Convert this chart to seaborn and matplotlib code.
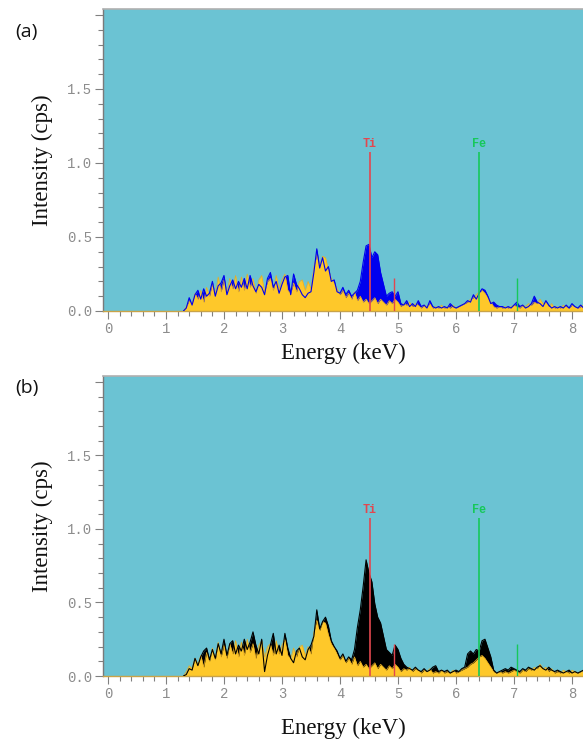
import numpy as np
import pandas as pd
import matplotlib
matplotlib.use("Agg")
import matplotlib.pyplot as plt
from matplotlib.ticker import MultipleLocator, FixedLocator, FixedFormatter
import seaborn as sns

# ---------------- data ----------------
energy = np.round(np.arange(1.30, 8.2001, 0.05), 2)   # keV sampling grid

# reference spectrum (yellow, same in both panels)
yellow_ref = [
    0.00, 0.03, 0.07, 0.05, 0.12, 0.08, 0.14, 0.06, 0.16, 0.10,
    0.19, 0.11, 0.23, 0.13, 0.21, 0.12, 0.22, 0.15, 0.24, 0.13,
    0.23, 0.14, 0.25, 0.16, 0.22, 0.12, 0.21, 0.24, 0.13, 0.20,
    0.22, 0.14, 0.24, 0.15, 0.21, 0.25, 0.14, 0.12, 0.19, 0.13,
    0.20, 0.21, 0.14, 0.20, 0.15, 0.30, 0.38, 0.31, 0.37, 0.36,
    0.28, 0.22, 0.19, 0.15, 0.11, 0.14, 0.09, 0.12, 0.08, 0.13,
    0.07, 0.10, 0.06, 0.08, 0.05, 0.07, 0.09, 0.05, 0.08, 0.06,
    0.04, 0.07, 0.05, 0.08, 0.06, 0.03, 0.05, 0.04, 0.06, 0.03,
    0.05, 0.04, 0.02, 0.04, 0.03, 0.05, 0.02, 0.03, 0.02, 0.04,
    0.02, 0.03, 0.02, 0.04, 0.02, 0.03, 0.04, 0.05, 0.06, 0.08,
    0.09, 0.11, 0.13, 0.14, 0.12, 0.09, 0.06, 0.03, 0.02, 0.03,
    0.02, 0.03, 0.02, 0.03, 0.04, 0.03, 0.02, 0.04, 0.03, 0.05,
    0.04, 0.06, 0.05, 0.08, 0.05, 0.06, 0.03, 0.05, 0.02, 0.03,
    0.02, 0.04, 0.03, 0.02, 0.04, 0.03, 0.02, 0.03, 0.04,
]

# sample spectrum, panel (a) (blue)
sample_a = [
    0.00, 0.02, 0.09, 0.04, 0.11, 0.14, 0.08, 0.15, 0.10, 0.12,
    0.20, 0.10, 0.17, 0.19, 0.24, 0.11, 0.17, 0.21, 0.15, 0.20,
    0.16, 0.22, 0.15, 0.24, 0.17, 0.13, 0.18, 0.16, 0.11, 0.22,
    0.26, 0.16, 0.20, 0.12, 0.18, 0.23, 0.24, 0.11, 0.25, 0.18,
    0.15, 0.11, 0.09, 0.12, 0.13, 0.26, 0.42, 0.29, 0.36, 0.27,
    0.30, 0.20, 0.21, 0.13, 0.12, 0.16, 0.11, 0.14, 0.10, 0.12,
    0.14, 0.20, 0.33, 0.44, 0.45, 0.36, 0.40, 0.38, 0.26, 0.18,
    0.10, 0.12, 0.13, 0.10, 0.13, 0.05, 0.04, 0.07, 0.03, 0.05,
    0.03, 0.07, 0.03, 0.04, 0.02, 0.07, 0.03, 0.02, 0.03, 0.02,
    0.03, 0.02, 0.05, 0.03, 0.02, 0.03, 0.04, 0.05, 0.07, 0.06,
    0.11, 0.08, 0.12, 0.15, 0.14, 0.10, 0.05, 0.06, 0.04, 0.03,
    0.03, 0.02, 0.03, 0.02, 0.04, 0.06, 0.03, 0.04, 0.02, 0.03,
    0.05, 0.10, 0.06, 0.05, 0.03, 0.07, 0.04, 0.02, 0.03, 0.02,
    0.03, 0.02, 0.04, 0.02, 0.05, 0.03, 0.02, 0.04, 0.02,
]

# sample spectrum, panel (b) (black)
sample_b = [
    0.00, 0.01, 0.05, 0.04, 0.12, 0.07, 0.13, 0.17, 0.19, 0.11,
    0.18, 0.12, 0.22, 0.15, 0.25, 0.14, 0.22, 0.24, 0.15, 0.21,
    0.17, 0.25, 0.18, 0.23, 0.30, 0.21, 0.15, 0.25, 0.03, 0.14,
    0.21, 0.29, 0.15, 0.21, 0.14, 0.29, 0.19, 0.12, 0.09, 0.17,
    0.19, 0.13, 0.11, 0.18, 0.21, 0.27, 0.45, 0.32, 0.37, 0.40,
    0.34, 0.24, 0.20, 0.17, 0.12, 0.15, 0.10, 0.13, 0.11, 0.18,
    0.33, 0.45, 0.61, 0.79, 0.70, 0.64, 0.49, 0.40, 0.36, 0.27,
    0.18, 0.16, 0.14, 0.21, 0.18, 0.12, 0.08, 0.06, 0.05, 0.04,
    0.06, 0.04, 0.03, 0.05, 0.03, 0.04, 0.06, 0.07, 0.03, 0.04,
    0.03, 0.04, 0.02, 0.03, 0.04, 0.03, 0.05, 0.06, 0.15, 0.17,
    0.15, 0.18, 0.17, 0.24, 0.25, 0.19, 0.13, 0.04, 0.02, 0.03,
    0.04, 0.05, 0.04, 0.06, 0.05, 0.04, 0.03, 0.05, 0.04, 0.06,
    0.05, 0.04, 0.06, 0.07, 0.05, 0.04, 0.06, 0.04, 0.03, 0.04,
    0.03, 0.02, 0.03, 0.04, 0.02, 0.03, 0.02, 0.03, 0.04,
]

# element marker lines
marker_elements = ["Ti", "Fe"]
marker_ka = [4.51, 6.40]
marker_kb = [4.93, 7.06]
marker_ka_height = 1.075
marker_kb_height = 0.22

x_ticks = [0, 1, 2, 3, 4, 5, 6, 7, 8]
y_ticks = [0.0, 0.5, 1.0, 1.5, 2.0]
y_ticklabels = ["0.0", "0.5", "1.0", "1.5", ""]
panel_letters = ["(a)", "(b)"]

# ---------------- style ----------------
sns.set_style("ticks")
plt.rcParams["font.family"] = ["DejaVu Sans"]

BG = "#6bc3d3"
YELLOW = "#fec82a"
MARK_COLORS = ["#e2474f", "#16c85a"]

W, H = 583, 742
fig = plt.figure(figsize=(W / 100, H / 100), dpi=100)
ax_a = fig.add_axes([103 / W, 1 - 311 / H, 480 / W, 302 / H])
ax_b = fig.add_axes([103 / W, 1 - 676 / H, 480 / W, 300 / H])

panels = [
    (ax_a, "a", "#0000ee", -0.105, 32 / H),
    (ax_b, "b", "#000000", -0.14, 388 / H),
]

df = pd.DataFrame({"energy": energy, "ref": yellow_ref,
                   "a": sample_a, "b": sample_b})

for k, (ax, col, scol, xl_y, letter_y) in enumerate(panels):
    ax.set_facecolor(BG)
    ax.fill_between(df["energy"], 0, df[col], color=scol, lw=0, zorder=1)
    ax.fill_between(df["energy"], 0, df["ref"], color=YELLOW, lw=0, zorder=2)
    sns.lineplot(data=df, x="energy", y="ref", ax=ax, color="#e8ad22",
                 lw=0.5, zorder=2.5)
    sns.lineplot(data=df, x="energy", y=col, ax=ax, color=scol,
                 lw=0.8, zorder=3)

    for el, ka, kb, mc in zip(marker_elements, marker_ka, marker_kb, MARK_COLORS):
        ax.vlines(ka, 0, marker_ka_height, color=mc, lw=1.2, zorder=4)
        ax.vlines(kb, 0, marker_kb_height, color=mc, lw=1.0, zorder=4)
        ax.text(ka, marker_ka_height + 0.055, el, color=mc, ha="center",
                va="center", fontsize=8.5, fontweight="bold",
                family="Liberation Mono", zorder=5)

    ax.set_xlim(-0.086, 8.19)
    ax.set_ylim(0, 2.04)

    ax.xaxis.set_major_locator(FixedLocator(x_ticks))
    ax.xaxis.set_minor_locator(MultipleLocator(0.2))
    ax.yaxis.set_major_locator(FixedLocator(y_ticks))
    ax.yaxis.set_major_formatter(FixedFormatter(y_ticklabels))
    ax.yaxis.set_minor_locator(MultipleLocator(0.1))
    ax.tick_params(which="major", length=6, width=0.8, color="#808080",
                   labelcolor="#8c8c8c", labelsize=10, pad=2)
    ax.tick_params(which="minor", length=3.5, width=0.8, color="#808080")
    for lab in ax.get_xticklabels() + ax.get_yticklabels():
        lab.set_family("Liberation Mono")

    ax.spines["left"].set_color("#7a7a7a")
    ax.spines["left"].set_linewidth(1.0)
    ax.spines["top"].set_visible(True)
    ax.spines["top"].set_color("#b0b0b0")
    ax.spines["top"].set_linewidth(1.2)
    ax.spines["right"].set_visible(False)
    ax.spines["bottom"].set_color("#c9a348")
    ax.spines["bottom"].set_linewidth(1.0)

    ax.set_ylabel("Intensity (cps)", family="Liberation Serif", fontsize=16.5,
                  color="#111111")
    ax.yaxis.set_label_coords(-0.104, 0.5)
    ax.set_xlabel("Energy (keV)", family="Liberation Serif", fontsize=16.5,
                  color="#111111")
    ax.xaxis.set_label_coords(0.5, xl_y)

    fig.text(15 / W, 1 - letter_y, panel_letters[k], family="Open Sans",
             fontsize=14, ha="left", va="center", color="#111111")

fig.savefig("out.png", dpi=100)
